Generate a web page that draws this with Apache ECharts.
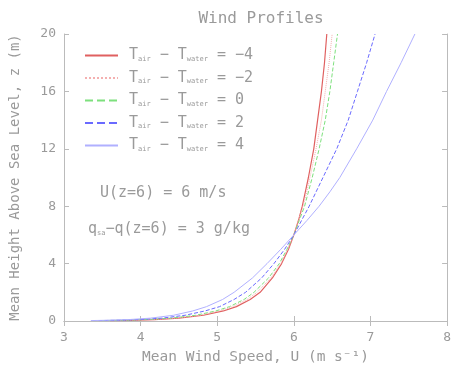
<!DOCTYPE html>
<html>
<head>
<meta charset="utf-8">
<script src="https://cdn.jsdelivr.net/npm/echarts@6/dist/echarts.min.js"></script>
<style>
  html, body { margin: 0; padding: 0; background: #fff; }
  #main { width: 454px; height: 370px; }
</style>
</head>
<body>
<div id="main"></div>
<script>
var heights = [0.03, 0.05, 0.1, 0.2, 0.4, 0.7, 1, 1.5, 2, 3, 4, 5, 6, 7, 8, 9, 10, 12, 14, 16, 18, 20];
// mean wind speed (m/s) for each air-sea temperature difference
var speedM4 = [3.6, 3.85, 4.18, 4.5, 4.82, 5.08, 5.25, 5.43, 5.56, 5.72, 5.84, 5.93, 6.0, 6.06, 6.11, 6.15, 6.19, 6.26, 6.31, 6.36, 6.4, 6.43];
var speedM2 = [3.55, 3.8, 4.13, 4.45, 4.77, 5.03, 5.2, 5.39, 5.52, 5.7, 5.83, 5.92, 6.0, 6.06, 6.12, 6.17, 6.21, 6.29, 6.36, 6.41, 6.46, 6.5];
var speed0 = [3.5, 3.75, 4.07, 4.4, 4.72, 4.98, 5.16, 5.35, 5.48, 5.67, 5.81, 5.91, 6.0, 6.07, 6.14, 6.19, 6.24, 6.33, 6.41, 6.47, 6.52, 6.57];
var speedP2 = [3.45, 3.68, 3.98, 4.28, 4.58, 4.84, 5.03, 5.22, 5.37, 5.58, 5.74, 5.88, 6.0, 6.1, 6.2, 6.29, 6.38, 6.56, 6.71, 6.83, 6.95, 7.06];
var speedP4 = [3.35, 3.55, 3.85, 4.13, 4.43, 4.68, 4.86, 5.07, 5.22, 5.46, 5.65, 5.83, 6.0, 6.17, 6.33, 6.47, 6.6, 6.82, 7.03, 7.21, 7.4, 7.58];
var diffLabels = ['−4', '−2', '0', '2', '4'];
var xTicks = [3, 4, 5, 6, 7, 8];
var yTicks = [0, 4, 8, 12, 16, 20];

var grey = '#9a9a9a';
var font = 'DejaVu Sans Mono';

function pairs(speeds) {
  return speeds.map(function (u, i) { return [u, heights[i]]; });
}

var styles = [
  { color: '#e06060', type: 'solid', width: 1.2 },
  { color: '#f4b0b0', type: 'dotted', width: 1 },
  { color: '#7de07d', type: 'dashed', width: 1 },
  { color: '#6a6aff', type: 'dashed', width: 1 },
  { color: '#b0b0ff', type: 'solid', width: 1 }
];
var allSpeeds = [speedM4, speedM2, speed0, speedP2, speedP4];

var series = allSpeeds.map(function (s, i) {
  return {
    name: 'd' + diffLabels[i],
    type: 'line',
    symbol: 'none',
    smooth: false,
    lineStyle: styles[i],
    itemStyle: { color: styles[i].color },
    data: pairs(s)
  };
});

var myChart = echarts.init(document.getElementById('main'));
var option = {
  animation: false,
  textStyle: { fontFamily: font, color: grey },
  title: {
    text: 'Wind Profiles',
    left: 256,
    textAlign: 'center',
    top: 6,
    textStyle: { fontFamily: font, fontSize: 16, fontWeight: 'normal', color: grey }
  },
  grid: { left: 60, right: 1, top: 34, bottom: 45 },
  legend: {
    orient: 'vertical',
    left: 79,
    top: 43,
    itemWidth: 33,
    itemHeight: 10,
    itemGap: 7.5,
    itemStyle: { opacity: 0 },
    formatter: function (name) {
      return '{n|T}{s|air}{n| − T}{s|water}{n| = ' + name.slice(1) + '}';
    },
    textStyle: {
      color: grey,
      fontFamily: font,
      padding: [0, 0, 0, 6],
      rich: {
        n: { fontFamily: font, fontSize: 15, color: grey },
        s: { fontFamily: font, fontSize: 7, color: grey, padding: [7, 0, 0, 0] }
      }
    }
  },
  graphic: [
    {
      type: 'text', left: 100, top: 186,
      style: { text: 'U(z=6) = 6 m/s', fontFamily: font, fontSize: 15, fill: grey }
    },
    {
      type: 'text', left: 88, top: 222,
      style: {
        text: '{n|q}{s|sa}{n|−q(z=6) = 3 g/kg}',
        fill: grey,
        rich: {
          n: { fontFamily: font, fontSize: 15, color: grey },
          s: { fontFamily: font, fontSize: 7, color: grey, padding: [7, 0, 0, 0] }
        }
      }
    }
  ],
  xAxis: [
    {
      type: 'value',
      min: xTicks[0],
      max: xTicks[xTicks.length - 1],
      interval: 1,
      name: 'Mean Wind Speed, U (m s⁻¹)',
      nameLocation: 'middle',
      nameGap: 29,
      nameTextStyle: { fontFamily: font, fontSize: 14.5, color: grey },
      axisLine: { lineStyle: { color: '#bbb' } },
      axisTick: { inside: true, length: 5, lineStyle: { color: '#bbb' } },
      axisLabel: { fontFamily: font, fontSize: 13, color: grey, margin: 10 },
      splitLine: { show: false }
    },
    {
      type: 'value',
      position: 'top',
      min: xTicks[0],
      max: xTicks[xTicks.length - 1],
      interval: 1,
      axisLine: { show: true, lineStyle: { color: '#bbb' } },
      axisTick: { inside: true, length: 5, lineStyle: { color: '#bbb' } },
      axisLabel: { show: false },
      splitLine: { show: false }
    }
  ],
  yAxis: [
    {
      type: 'value',
      min: yTicks[0],
      max: yTicks[yTicks.length - 1],
      interval: 4,
      name: 'Mean Height Above Sea Level, z (m)',
      nameLocation: 'middle',
      nameGap: 42,
      nameTextStyle: { fontFamily: font, fontSize: 14, color: grey },
      axisLine: { show: true, lineStyle: { color: '#bbb' } },
      axisTick: { show: true, inside: true, length: 5, lineStyle: { color: '#bbb' } },
      axisLabel: { fontFamily: font, fontSize: 13, color: grey, margin: 8 },
      splitLine: { show: false }
    },
    {
      type: 'value',
      position: 'right',
      min: yTicks[0],
      max: yTicks[yTicks.length - 1],
      interval: 4,
      axisLine: { show: true, lineStyle: { color: '#bbb' } },
      axisTick: { show: true, inside: true, length: 5, lineStyle: { color: '#bbb' } },
      axisLabel: { show: false },
      splitLine: { show: false }
    }
  ],
  series: series
};

myChart.setOption(option);
</script>
</body>
</html>
